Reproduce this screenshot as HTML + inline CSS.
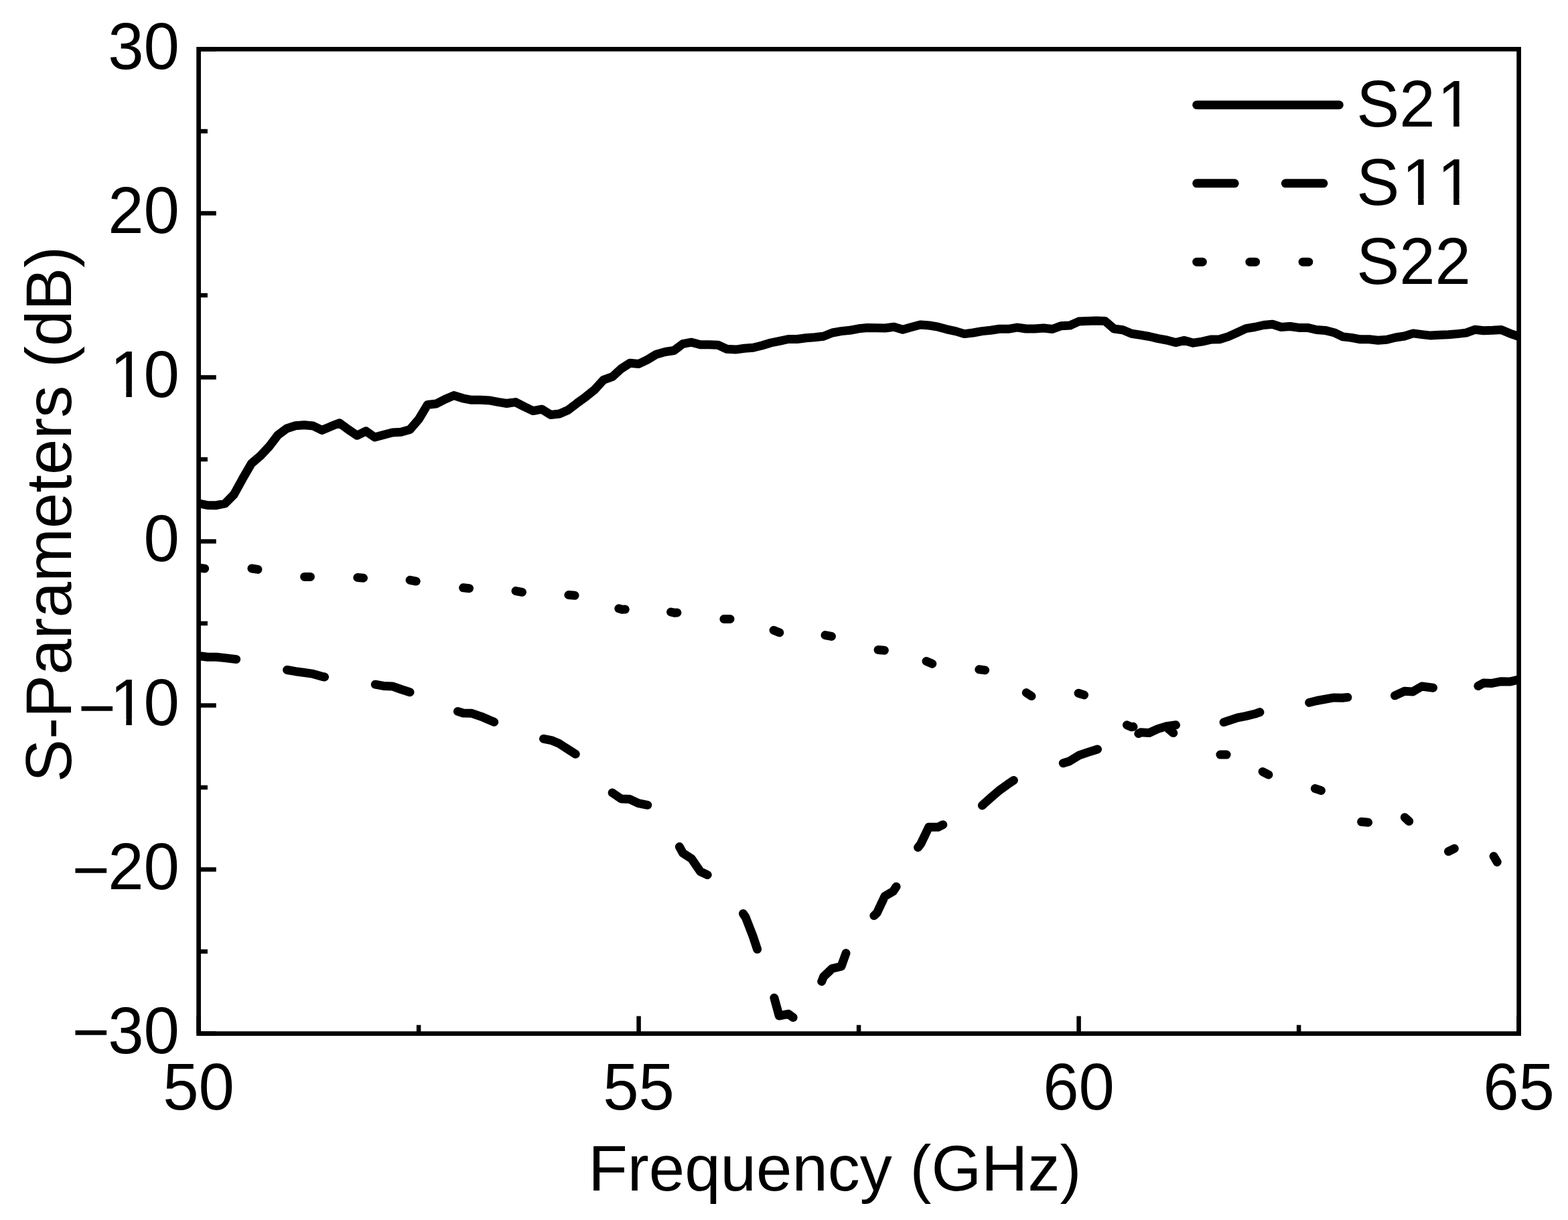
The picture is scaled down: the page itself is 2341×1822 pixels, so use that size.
<!DOCTYPE html>
<html lang="en">
<head>
<meta charset="utf-8">
<title>S-Parameters vs Frequency</title>
<style>
html,body{margin:0;padding:0;background:#fff;}
body{width:2341px;height:1822px;overflow:hidden;}
svg{display:block;}
text{font-family:"Liberation Sans",sans-serif;font-size:96px;fill:#000;font-kerning:none;}
</style>
</head>
<body>
<svg width="2341" height="1822" viewBox="0 0 2341 1822">
<rect x="0" y="0" width="2341" height="1822" fill="#fff"/>
<defs><clipPath id="plot"><rect x="296.6" y="73.4" width="1971.0" height="1470.2"/></clipPath></defs>
<g fill="none" stroke="#000" stroke-width="13.0" stroke-linecap="round" stroke-linejoin="round" clip-path="url(#plot)">
<polyline points="296.6,751.8 309.7,754.5 322.9,754.7 336.0,752.0 349.2,738.6 362.3,714.8 375.4,692.2 388.6,680.9 401.7,667.1 414.9,649.7 428.0,640.0 441.1,635.8 454.3,634.7 467.4,636.0 480.6,642.4 493.7,636.9 506.8,631.8 520.0,641.5 533.1,650.3 546.3,643.9 559.4,653.0 572.5,649.4 585.7,646.0 598.8,645.3 612.0,641.5 625.1,626.3 638.2,604.5 651.4,603.0 664.5,596.3 677.7,590.6 690.8,594.8 703.9,597.3 717.1,597.3 730.2,597.9 743.4,600.4 756.5,602.5 769.6,600.6 782.8,607.4 795.9,613.6 809.1,611.2 822.2,619.5 835.3,618.0 848.5,612.2 861.6,602.1 874.8,592.4 887.9,581.9 901.0,567.3 914.2,562.7 927.3,550.8 940.5,542.2 953.6,543.5 966.7,537.1 979.9,529.2 993.0,525.5 1006.2,523.5 1019.3,513.6 1032.4,511.2 1045.6,514.8 1058.7,514.8 1071.9,515.3 1085.0,521.2 1098.1,522.1 1111.3,520.3 1124.4,519.3 1137.6,516.0 1150.7,512.0 1163.8,509.3 1177.0,506.5 1190.1,506.5 1203.3,504.7 1216.4,503.8 1229.5,502.3 1242.7,497.0 1255.8,494.6 1269.0,493.3 1282.1,490.8 1295.2,489.5 1308.4,489.7 1321.5,490.0 1334.7,488.2 1347.8,492.2 1360.9,488.6 1374.1,484.9 1387.2,486.0 1400.4,488.2 1413.5,491.8 1426.6,494.6 1439.8,498.6 1452.9,497.0 1466.1,494.6 1479.2,493.3 1492.3,491.3 1505.5,491.3 1518.6,489.1 1531.8,491.0 1544.9,491.0 1558.0,490.0 1571.2,491.5 1584.3,486.7 1597.5,486.0 1610.6,480.1 1623.7,479.4 1636.9,479.0 1650.0,479.6 1663.2,491.0 1676.3,492.8 1689.4,498.3 1702.6,500.3 1715.7,502.5 1728.9,505.6 1742.0,508.0 1755.1,511.6 1768.3,508.4 1781.4,512.2 1794.6,510.1 1807.7,507.1 1820.8,506.8 1834.0,502.6 1847.1,496.7 1860.3,490.7 1873.4,488.5 1886.5,485.5 1899.7,484.2 1912.8,488.5 1926.0,487.5 1939.1,489.4 1952.2,489.4 1965.4,492.5 1978.5,493.4 1991.7,496.7 2004.8,502.9 2017.9,504.4 2031.1,506.8 2044.2,506.8 2057.4,508.2 2070.5,507.3 2083.6,504.0 2096.8,502.0 2109.9,497.9 2123.1,499.6 2136.2,501.1 2149.3,500.3 2162.5,499.8 2175.6,498.6 2188.8,497.1 2201.9,492.3 2215.0,493.7 2228.2,493.3 2241.3,492.6 2254.5,498.1 2267.6,502.6"/>
<path d="M296.6 979.5 L309.7 981.3 L322.9 981.3 L336.0 982.6 L352.6 984.6 M428.6 1000.5 L441.1 1002.7 L454.3 1004.5 L467.4 1006.4 L480.6 1010.3 L484.5 1011.0 M560.3 1022.2 L572.5 1024.4 L585.7 1024.9 L598.8 1029.5 L612.0 1033.7 M683.4 1062.4 L691.6 1065.0 L704.4 1065.3 L719.0 1070.3 L731.0 1075.4 L737.7 1078.2 M811.5 1103.4 L823.0 1105.6 L835.0 1110.6 L859.3 1126.2 M914.2 1184.0 L927.4 1193.0 L940.3 1193.6 L953.1 1199.6 L966.8 1202.3 M1014.4 1264.6 L1019.6 1274.1 L1032.4 1282.4 L1045.6 1301.6 L1056.2 1306.6 M1109.5 1364.5 L1113.2 1370.0 L1124.2 1398.4 L1130.6 1417.6 M1155.9 1490.3 L1163.2 1517.0 L1176.9 1514.3 L1184.1 1519.6 M1226.7 1465.8 L1229.5 1458.8 L1242.3 1446.5 L1256.0 1443.2 L1263.0 1423.6 M1304.9 1367.6 L1309.2 1363.6 L1321.1 1338.3 L1333.5 1331.1 L1338.1 1324.2 M1370.6 1265.6 L1374.8 1260.1 L1386.7 1235.3 L1400.4 1235.3 L1407.8 1231.7 M1466.4 1202.9 L1479.2 1191.4 L1492.0 1180.4 L1504.8 1171.2 L1513.4 1165.4 M1587.3 1139.7 L1596.4 1137.0 L1610.7 1128.2 L1623.9 1123.6 L1638.5 1119.0 M1699.8 1095.6 L1702.9 1093.8 L1715.7 1094.5 L1728.5 1088.6 L1741.4 1084.6 L1755.5 1082.8 M1827.1 1078.6 L1847.6 1071.8 L1860.4 1069.4 L1873.2 1066.3 L1880.9 1063.6 M1954.7 1049.3 L1965.7 1046.5 L1991.4 1041.9 L2004.2 1042.3 L2011.9 1041.4 M2082.5 1038.8 L2096.6 1032.3 L2109.4 1032.9 L2122.8 1025.0 L2139.6 1027.2 M2206.9 1024.5 L2214.7 1020.1 L2227.5 1020.4 L2241.3 1017.7 L2254.1 1018.1 L2267.8 1014.9"/>
<path d="M296.6 848.0 L305.6 849.1 M375.9 849.0 L384.9 850.4 M454.6 861.4 L463.4 861.4 M533.8 862.6 L542.5 863.2 M612.1 866.3 L621.2 868.1 M691.6 877.8 L700.5 878.7 M770.0 882.6 L779.5 884.4 M848.9 888.6 L858.1 889.3 M923.8 908.8 L928.8 910.2 L933.3 910.0 M1001.6 914.0 L1006.7 915.2 L1010.9 914.9 M1080.9 924.6 L1090.0 924.4 M1155.1 941.2 L1163.8 944.7 M1232.0 948.6 L1241.5 950.4 M1311.1 970.5 L1320.4 971.3 M1383.0 987.5 L1391.8 991.2 M1461.8 999.8 L1470.6 1000.9 M1532.3 1034.6 L1540.0 1039.6 M1610.1 1035.2 L1618.6 1037.9 M1682.5 1082.8 L1688.9 1085.7 L1692.0 1085.3 M1744.1 1088.3 L1751.8 1094.6 M1821.9 1127.1 L1831.1 1127.1 M1885.1 1152.4 L1893.9 1157.0 M1963.4 1177.6 L1972.4 1180.7 M2032.6 1227.3 L2042.6 1228.3 M2097.3 1220.7 L2103.7 1226.6 M2162.5 1271.6 L2171.3 1267.2 M2230.1 1278.8 L2235.2 1287.4"/>
</g>
<g fill="none" stroke="#000" stroke-width="6.7">
<rect x="296.6" y="73.4" width="1971.0" height="1470.2"/>
<path stroke-width="6.5" d="M296.6 73.4h26.1 M296.6 195.9h13.3 M296.6 318.4h26.1 M296.6 440.9h13.3 M296.6 563.5h26.1 M296.6 686.0h13.3 M296.6 808.5h26.1 M296.6 931.0h13.3 M296.6 1053.5h26.1 M296.6 1176.0h13.3 M296.6 1298.6h26.1 M296.6 1421.1h13.3 M296.6 1543.6h26.1 M296.6 1543.6v-26.1 M625.1 1543.6v-12.9 M953.6 1543.6v-26.1 M1282.1 1543.6v-12.9 M1610.6 1543.6v-26.1 M1939.1 1543.6v-12.9 M2267.6 1543.6v-26.1"/>
</g>
<g>
<text transform="translate(0 102.5) scale(1 1.031)"><tspan x="161.22">3</tspan><tspan x="214.61">0</tspan></text>
<text transform="translate(0 347.5) scale(1 1.031)"><tspan x="161.22">2</tspan><tspan x="214.61">0</tspan></text>
<text transform="translate(0 592.6) scale(1 1.031)"><tspan x="164.22">1</tspan><tspan x="214.61">0</tspan></text>
<text transform="translate(0 837.6) scale(1 1.031)"><tspan x="214.61">0</tspan></text>
<text transform="translate(0 1082.6) scale(1 1.031)"><tspan x="116.83" dy="7.70">−</tspan><tspan x="164.22" dy="-7.70">1</tspan><tspan x="214.61">0</tspan></text>
<text transform="translate(0 1327.7) scale(1 1.031)"><tspan x="107.76" dy="4.79">−</tspan><tspan x="161.22" dy="-4.79">2</tspan><tspan x="214.61">0</tspan></text>
<text transform="translate(0 1572.7) scale(1 1.031)"><tspan x="107.83" dy="1.74">−</tspan><tspan x="161.22" dy="-1.74">3</tspan><tspan x="214.61">0</tspan></text>
<text transform="translate(296.6 1657.3) scale(1.0 1.031)" text-anchor="middle">50</text>
<text transform="translate(953.6 1657.3) scale(1.0 1.031)" text-anchor="middle">55</text>
<text transform="translate(1610.6 1657.3) scale(1.0 1.031)" text-anchor="middle">60</text>
<text transform="translate(2267.6 1657.3) scale(1.0 1.031)" text-anchor="middle">65</text>
</g>
<text x="1246.3" y="1777.7" text-anchor="middle" style="font-size:96px">Frequency (GHz)</text>
<text transform="translate(105.9 767.8) rotate(-90)" text-anchor="middle" style="font-size:96px">S-Parameters (dB)</text>
<g fill="none" stroke="#000" stroke-width="13.0" stroke-linecap="round">
<path d="M1786.7 156.7H1999.3"/>
<path d="M1786.7 273.8H1843.2M1919.3 273.8H1975.9"/>
<path d="M1786.7 391.2H1795.3M1865.9 391.2H1874.6M1945.1 391.2H1953.8"/>
</g>
<text transform="translate(0 188.6) scale(1 1.031)"><tspan x="2025.20">S</tspan><tspan x="2089.23">2</tspan><tspan x="2146.02">1</tspan></text>
<text transform="translate(0 306.0) scale(1 1.031)"><tspan x="2025.20">S</tspan><tspan x="2093.03">1</tspan><tspan x="2146.02">1</tspan></text>
<text transform="translate(0 423.7) scale(1 1.031)"><tspan x="2025.20">S</tspan><tspan x="2089.23">2</tspan><tspan x="2142.62">2</tspan></text>
<path fill="#fff" d="M170.53 583.71H188.36V594.10H170.53Z M196.84 583.71H213.92V594.10H196.84Z M170.53 1073.71H188.36V1084.10H170.53Z M196.84 1073.71H213.92V1084.10H196.84Z M2152.33 179.71H2170.16V190.10H2152.33Z M2178.65 179.71H2195.72V190.10H2178.65Z M2099.34 297.11H2117.17V307.50H2099.34Z M2125.66 297.11H2142.73V307.50H2125.66Z M2152.33 297.11H2170.16V307.50H2152.33Z M2178.65 297.11H2195.72V307.50H2178.65Z"/>
</svg>
</body>
</html>
